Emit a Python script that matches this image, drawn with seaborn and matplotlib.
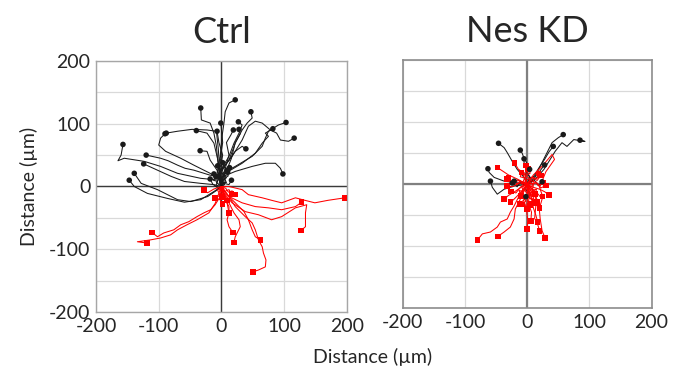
import pandas as pd
import seaborn as sns
import matplotlib.pyplot as plt

# cell tracks (x, y in um), each starts at the origin; last point = end position
ctrl_up = [
    [(0, 0), (-4, 21), (-6, 42), (-8, 64), (-12, 85), (-18, 101), (-32, 106), (-33, 125)],
    [(0, 0), (-3, 30), (-5, 60), (-8, 88), (-23, 90), (-47, 91), (-70, 88), (-88, 85)],
    [(0, 0), (-2, 10), (-18, 21), (-44, 34), (-65, 45), (-89, 56), (-100, 66), (-97, 77), (-90, 84)],
    [(0, 0), (-2, 10), (-33, 13), (-70, 21), (-97, 32), (-123, 40), (-155, 45), (-165, 41), (-160, 50), (-157, 67)],
    [(0, 0), (-2, 16), (-18, 18), (-44, 26), (-58, 29), (-70, 34), (-85, 41), (-97, 45), (-120, 50)],
    [(0, 0), (-12, 3), (-33, 5), (-59, 8), (-80, 16), (-102, 26), (-124, 36)],
    [(0, 0), (-6, -5), (-22, -16), (-49, -24), (-70, -21), (-102, -5), (-128, 5), (-139, 21)],
    [(0, 0), (-12, -8), (-33, -21), (-59, -25), (-86, -19), (-118, -11), (-139, 0), (-147, 10)],
    [(0, 0), (-2, 26), (-7, 48), (-12, 69), (-23, 85), (-40, 89)],
    [(0, 0), (-2, 10), (-7, 26), (-18, 42), (-23, 56), (-34, 57)],
    [(0, 0), (3, 20), (-2, 45), (2, 70), (-1, 101)],
    [(0, 0), (-3, 25), (2, 50), (-4, 70), (-7, 88)],
    [(0, 0), (-7, 21), (-2, 48), (1, 80), (4, 101), (6, 119), (12, 133), (22, 138)],
    [(0, 0), (-4, 21), (12, 42), (22, 69), (33, 90), (41, 101), (49, 109), (47, 119)],
    [(0, 0), (-4, 18), (22, 32), (49, 48), (65, 64), (70, 77), (75, 88), (83, 93), (91, 98), (103, 102)],
    [(0, 0), (-4, 21), (17, 48), (33, 74), (43, 96), (54, 104), (65, 101), (78, 90), (88, 85), (94, 74), (107, 72), (116, 77)],
    [(0, 0), (1, 18), (33, 37), (54, 53), (65, 69), (75, 80), (70, 85), (82, 92)],
    [(0, 0), (-4, 21), (12, 48), (20, 69), (28, 85), (33, 98), (27, 103)],
    [(0, 0), (5, 25), (12, 50), (8, 70), (15, 82), (19, 90)],
    [(0, 0), (6, 20), (16, 45), (22, 70), (30, 84), (28, 91)],
    [(0, 0), (-4, 21), (12, 42), (22, 56), (33, 64), (39, 60)],
    [(0, 0), (-4, 13), (22, 24), (49, 32), (70, 37), (86, 37), (94, 29), (98, 20)],
    [(0, 0), (-8, 6), (-4, 14), (-12, 20)],
    [(0, 0), (6, 8), (3, 18), (9, 26)],
    [(0, 0), (-5, -3), (-14, 4), (-18, 12)],
    [(0, 0), (4, 5), (12, 3), (16, 10)],
    [(0, 0), (3, 6), (-2, 12), (4, 17), (-1, 24), (5, 30), (2, 38)],
    [(0, 0), (-4, 5), (1, 11), (-5, 18), (-1, 27), (-6, 33)],
    [(0, 0), (5, 3), (2, 9), (8, 14), (4, 20), (10, 23)],
    [(0, 0), (-3, -4), (-9, 1), (-6, 8), (-13, 10), (-9, 16)],
    [(0, 0), (2, 7), (8, 6), (5, 13), (11, 17), (7, 22), (13, 30)],
]

ctrl_down = [
    [(0, 0), (-2, -16), (-10, -29), (-17, -37), (-28, -42), (-39, -48), (-52, -56), (-65, -61), (-76, -69), (-92, -74), (-102, -80), (-111, -73)],
    [(0, 0), (-2, -5), (-10, -27), (-20, -42), (-39, -53), (-55, -61), (-70, -69), (-81, -77), (-97, -82), (-113, -85), (-134, -88), (-119, -90)],
    [(0, 0), (12, 0), (33, -5), (43, -13), (65, -18), (80, -22), (96, -26), (118, -18), (133, -22), (149, -26), (170, -22), (197, -18)],
    [(0, 0), (12, -16), (33, -26), (54, -32), (75, -34), (96, -37), (118, -32), (128, -25)],
    [(0, 0), (-2, -3), (17, -26), (38, -40), (59, -45), (80, -53), (96, -48), (118, -34), (136, -29), (134, -42), (134, -64), (127, -70)],
    [(0, 0), (1, -5), (6, -21), (12, -32), (12, -42)],
    [(0, 0), (4, -10), (9, -26), (12, -42), (9, -53), (12, -64), (18, -73)],
    [(0, 0), (1, -5), (12, -26), (20, -42), (28, -53), (30, -64), (22, -80), (20, -89)],
    [(0, 0), (6, -10), (22, -26), (36, -40), (43, -53), (49, -69), (54, -80), (62, -85)],
    [(0, 0), (12, -16), (22, -32), (38, -48), (49, -58), (54, -69), (59, -85), (65, -96), (67, -106), (71, -117), (70, -128), (59, -133), (50, -136)],
    [(0, 0), (-6, -6), (-2, -14), (-10, -18)],
    [(0, 0), (5, -8), (12, -5), (16, -12)],
    [(0, 0), (-12, -4), (-22, -10), (-28, -6)],
    [(0, 0), (3, -10), (-3, -20), (2, -28)],
    [(0, 0), (4, -4), (-1, -8), (5, -12), (1, -17)],
    [(0, 0), (-3, -5), (3, -9), (-2, -13), (4, -19), (9, -22)],
    [(0, 0), (7, -3), (11, -9), (17, -7), (22, -13)],
]

nes_up = [
    [(0, 0), (8, 5), (16, 19), (24, 35), (32, 51), (40, 67), (50, 75), (58, 80)],
    [(0, 0), (13, 8), (27, 24), (37, 40), (45, 53), (56, 67), (64, 61), (75, 72), (93, 69), (85, 71)],
    [(0, 0), (10, 12), (20, 28), (28, 40), (35, 52), (42, 61)],
    [(0, 0), (-5, 11), (-16, 24), (-24, 37), (-32, 51), (-37, 59), (-46, 66)],
    [(0, 0), (-3, 15), (2, 30), (-5, 42), (-8, 50), (-11, 55)],
    [(0, 0), (4, 12), (-2, 25), (-5, 35), (-5, 41)],
    [(0, 0), (10, 8), (18, 18), (24, 26), (28, 31)],
    [(0, 0), (-21, 3), (-37, 5), (-53, 11), (-61, 19), (-63, 25)],
    [(0, 0), (-21, -3), (-37, -8), (-48, -16), (-56, -5), (-59, 5)],
    [(0, 0), (-8, 3), (-15, 7), (-21, 5)],
    [(0, 0), (6, 10), (-2, 18), (4, 24)],
    [(0, 0), (-10, 4), (-16, -4), (-24, 2)],
    [(0, 0), (12, 6), (18, -2), (24, 4)],
    [(0, 0), (-4, -8), (4, -14), (-2, -20)],
]

nes_down = [
    [(0, 0), (-5, -8), (-13, -19), (-21, -35), (-27, -45), (-32, -56), (-43, -61), (-48, -69), (-59, -77), (-72, -80), (-80, -90)],
    [(0, 0), (-5, -11), (-11, -24), (-19, -40), (-21, -56), (-27, -69), (-37, -77), (-47, -84)],
    [(0, 0), (5, -5), (13, -16), (19, -35), (21, -56), (24, -75), (29, -87)],
    [(0, 0), (8, -15), (14, -35), (12, -55), (17, -65), (20, -75)],
    [(0, 0), (6, -18), (10, -38), (14, -50), (17, -61)],
    [(0, 0), (1, -20), (-1, -40), (1, -58), (0, -72)],
    [(0, 0), (4, -15), (2, -30), (7, -45), (6, -59)],
    [(0, 0), (10, -5), (20, -8), (28, -12), (35, -17)],
    [(0, 0), (-10, -5), (-20, -12), (-30, -18), (-37, -24)],
    [(0, 0), (-8, -10), (-15, -18), (-22, -25), (-27, -29)],
    [(0, 0), (6, -10), (12, -18), (16, -29)],
    [(0, 0), (-12, 2), (-24, -4), (-32, -3)],
    [(0, 0), (-15, 8), (-30, 15), (-48, 27)],
    [(0, 0), (10, 15), (25, 30), (40, 48), (44, 40), (30, 20), (20, -5), (25, -20)],
    [(0, 0), (-8, -12), (-4, -24), (-12, -32)],
    [(0, 0), (10, -10), (6, -22), (14, -30)],
    [(0, 0), (-14, 6), (-24, 2), (-30, 10)],
    [(0, 0), (8, 12), (16, 6), (22, 14)],
    [(0, 0), (-6, 14), (4, 22), (-2, 30)],
    [(0, 0), (14, 2), (22, -6), (30, -2)],
    [(0, 0), (-10, -4), (-18, -14), (-26, -12)],
    [(0, 0), (4, -16), (-6, -26), (0, -40)],
    [(0, 0), (16, -14), (24, -24), (20, -38)],
    [(0, 0), (-4, 18), (-14, 24), (-20, 34)],
    [(0, 0), (-5, 4), (-2, -6), (-9, -3), (-6, -12), (-13, -10), (-10, -19)],
    [(0, 0), (4, -3), (-1, -9), (6, -14), (2, -21), (9, -26), (5, -34)],
    [(0, 0), (-3, 6), (4, 9), (-2, 14), (5, 18), (1, 25)],
    [(0, 0), (6, 4), (3, -4), (10, -2), (8, -10), (15, -8), (13, -16)],
    [(0, 0), (-6, -2), (-11, 5), (-16, 0), (-21, 6), (-26, 2), (-33, 8)],
    [(0, 0), (2, -6), (-4, -10), (1, -16), (-6, -20), (-2, -27), (-8, -33)],
    [(0, 0), (5, 7), (11, 3), (9, 11), (16, 9), (18, 17)],
    [(0, 0), (-2, -4), (4, -7), (0, -13), (7, -16), (3, -22), (10, -24), (6, -31)],
    [(0, 0), (-7, 3), (-4, 10), (-11, 12), (-9, 19)],
    [(0, 0), (3, 5), (9, -1), (14, 4), (20, -2), (26, 3)],
]

panels = ['Ctrl', 'Nes KD']
ticks = [-200, -100, 0, 100, 200]

# long table: one row per track point
rows = []
for panel, groups in [('Ctrl', [('up', ctrl_up), ('down', ctrl_down)]),
                      ('Nes KD', [('up', nes_up), ('down', nes_down)])]:
    for grp, tracks in groups:
        for i, tr in enumerate(tracks):
            for step, (x, y) in enumerate(tr):
                rows.append(dict(panel=panel, group=grp, track=f'{grp}{i}', step=step, x=x, y=y))
df = pd.DataFrame(rows)
ends = df.loc[df.groupby(['panel', 'track'])['step'].idxmax()]

sns.set_style('white')
plt.rcParams['font.family'] = ['Lato', 'DejaVu Sans']
plt.rcParams['axes.unicode_minus'] = False

fig = plt.figure(figsize=(6.78, 3.76), dpi=100)
ax1 = fig.add_axes([0.1416, 0.170, 0.370, 0.668])
ax2 = fig.add_axes([0.594, 0.180, 0.367, 0.660])
palette = {'up': '#1a1a1a', 'down': '#ff0000'}

for ax, panel in zip([ax1, ax2], panels):
    d = df[df.panel == panel]
    sns.lineplot(data=d, x='x', y='y', hue='group', units='track', estimator=None,
                 sort=False, palette=palette, lw=0.75, legend=False, ax=ax)
    e = ends[ends.panel == panel]
    sns.scatterplot(data=e, x='x', y='y', hue='group', style='group',
                    markers={'up': 'o', 'down': 's'}, palette=palette, s=16,
                    linewidth=0, legend=False, ax=ax, zorder=3)
    ax.set_xlim(-200, 200)
    ax.set_ylim(-200, 200)
    ax.set_xticks(ticks)
    ax.set_yticks(ticks)
    ax.set_yticks(range(-200, 201, 50), minor=True)
    ax.grid(True, which='both', color='#d9d9d9', lw=0.9)
    ax.set_axisbelow(True)
    ax.tick_params(which='both', length=0, labelsize=14, pad=4)
    ax.set_xlabel('')
    ax.set_ylabel('')
    ax.set_title(panel, fontsize=26, pad=13)

# zero lines and frames
ax1.axhline(0, color='#3a3a3a', lw=1.0, zorder=1.5)
ax1.axvline(0, color='#3a3a3a', lw=1.0, zorder=1.5)
ax2.axhline(0, color='#808080', lw=1.6, zorder=1.5)
ax2.axvline(0, color='#808080', lw=1.6, zorder=1.5)
for sp in ax1.spines.values():
    sp.set_color('#a6a6a6')
    sp.set_linewidth(1.0)
for sp in ax2.spines.values():
    sp.set_color('#8c8c8c')
    sp.set_linewidth(1.2)
ax2.set_yticklabels([])

fig.text(0.549, 0.05, 'Distance (µm)', ha='center', va='center', fontsize=14)
fig.text(0.042, 0.505, 'Distance (µm)', ha='center', va='center', rotation=90, fontsize=14)

fig.savefig('out.png', dpi=100)
